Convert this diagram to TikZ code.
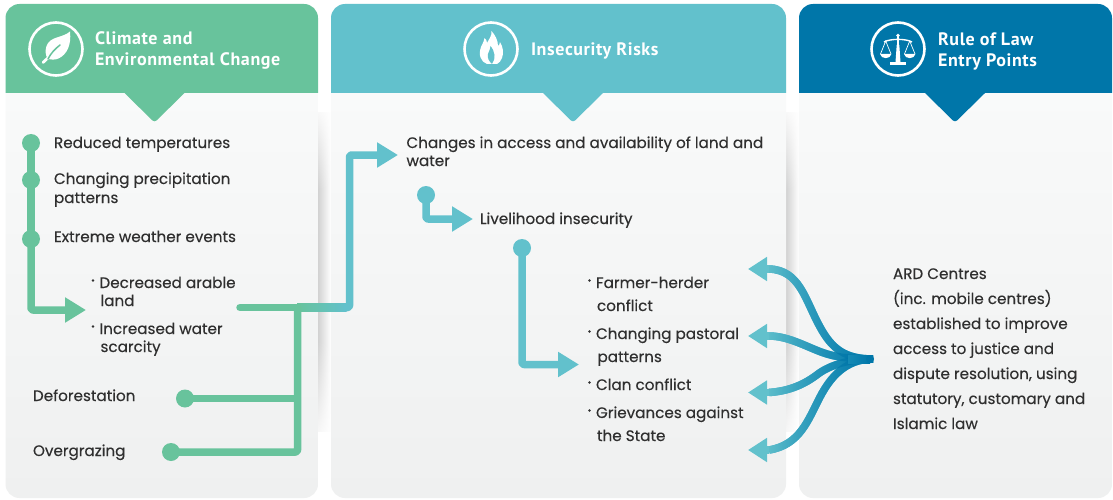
\documentclass[tikz,border=0pt]{standalone}
\usepackage{fontspec}
\setmainfont[FakeBold=0.25]{Poppins}
\newfontfamily\hdfont[LetterSpace=3.4]{PT Sans}
\usetikzlibrary{arrows.meta,fadings,calc}
\definecolor{cgreen}{HTML}{68C39C}
\definecolor{cteal}{HTML}{62C1CC}
\definecolor{cblue}{HTML}{0076A9}
\definecolor{cmid}{HTML}{2BA0C3}
\definecolor{ctext}{HTML}{2F2F2F}
\definecolor{pnltop}{HTML}{FAFBFB}
\definecolor{pnlbot}{HTML}{EFF0F0}
\definecolor{shd}{HTML}{D2D2D2}
\tikzfading[name=fanleft,left color=transparent!0,middle color=transparent!100,right color=transparent!100]
\tikzfading[name=fanright,left color=transparent!100,middle color=transparent!100,right color=transparent!0]
\tikzset{
  txt/.style={anchor=base west,inner sep=0pt,outer sep=0pt,text=ctext,font=\fontsize{15.2}{18}\selectfont},
  hd/.style={anchor=base west,inner sep=0pt,outer sep=0pt,text=white,font=\hdfont\bfseries\fontsize{18}{20}\selectfont},
  dotnode/.style={circle,inner sep=0pt,minimum size=18pt,fill=#1},
  conn/.style={line width=7.5pt,draw=#1,line join=round,rounded corners=2pt},
  headarrow/.style={-{Triangle[length=21pt,width=24pt]}},
  fan/.style={line width=7.5pt,line cap=butt},
  bullet/.style={circle,fill=ctext,inner sep=0pt,minimum size=2.6pt},
  ring/.style={circle,draw=white,line width=2.6pt,minimum size=53pt,inner sep=0pt}
}
\begin{document}
\begin{tikzpicture}[x=1pt,y=-1pt]
\useasboundingbox (0,0) rectangle (1113,500);
\fill[white] (0,0) rectangle (1113,500);
% shadows
\foreach \sx in {318,786}{
  \shade[left color=shd,right color=white] (\sx,96) rectangle (\sx+13,470);
  \fill[white,path fading=south] (\sx,100) rectangle (\sx+13,190);
  \fill[white] (\sx,90) rectangle (\sx+13,112);
  \fill[white,path fading=north] (\sx,340) rectangle (\sx+13,450);
  \fill[white] (\sx,432) rectangle (\sx+13,498);
}
% panels
\foreach \xa/\xb/\xc/\col in {5.5/318/154.5/cgreen,331/786/573/cteal,799/1112/955/cblue}{
  \shade[top color=pnltop,bottom color=pnlbot,rounded corners=14pt] (\xa,50) rectangle (\xb,498);
  \fill[\col] (\xa,93) [rounded corners=14pt] -- (\xa,4) -- (\xb,4) [sharp corners] -- (\xb,93) -- cycle;
  \fill[\col] (\xc-30,93) [rounded corners=3pt] -- (\xc,122.5) [sharp corners] -- (\xc+30,93) -- cycle;
}
% icon rings
\node[ring] (ringA) at (56,49) {};
\node[ring] (ringB) at (491,49) {};
\node[ring] (ringC) at (898,49) {};
% leaf
\fill[white] (70,31.5) .. controls (63,38) and (50,36) .. (46.5,46) .. controls (45,51) and (45.5,55) .. (47.5,58.5)
  .. controls (51,60) and (55,60) .. (58.5,58.5) .. controls (67,54.5) and (71.5,45) .. (70,31.5) -- cycle;
\draw[white,line width=2.8pt,line cap=round] (50,56) -- (43,62.5);
\draw[cgreen,line width=1.5pt,line cap=round] (48,59) .. controls (51,53) and (55,49) .. (60,45);
% flame
\fill[white] (487,64) .. controls (481,62) and (478,55) .. (481,47) .. controls (482,44) and (484,42) .. (484.5,38)
  .. controls (486,39) and (487,41) .. (487,43) .. controls (489,39) and (492,36) .. (491.5,31)
  .. controls (495,35) and (498,40) .. (498,46) .. controls (499,45) and (500,44) .. (500,42)
  .. controls (503,47) and (504,53) .. (502,58) .. controls (501,61) and (499,63) .. (497,64) -- cycle;
\fill[cteal] (492,64) .. controls (489,61) and (487,58) .. (488,54) .. controls (488.5,52) and (490,50) .. (490.5,46)
  .. controls (493,49) and (494,52) .. (494.5,55) .. controls (495,58) and (494,61) .. (492,64) -- cycle;
% scales
\fill[white] (896.7,45) -- (899.3,45) -- (900.5,62) -- (895.5,62) -- cycle;
\draw[white,line width=1.6pt] (898,36) -- (898,62);
\fill[white] (890,62) rectangle (906,65);
\fill[white] (898,35.5) circle (1.8);
\draw[white,line width=1.4pt] (884,42) .. controls (890,38.5) and (906,38.5) .. (912,42);
\draw[white,line width=.7pt] (880.5,54) -- (885.7,41) -- (891,54);
\draw[white,line width=.7pt] (904.5,54) -- (909.7,41) -- (915,54);
\fill[white] (880,54) .. controls (881,59.5) and (890.5,59.5) .. (891.4,54) -- cycle;
\fill[white] (904,54) .. controls (905,59.5) and (914.5,59.5) .. (915.4,54) -- cycle;
% headers
\node[hd] (hA1) at (95,45) {Climate and};
\node[hd] (hA2) at (95,66) {Environmental Change};
\node[hd] (hB1) at (531,56) {Insecurity Risks};
\node[hd] (hC1) at (938,46) {Rule of Law};
\node[hd] (hC2) at (938,67) {Entry Points};
% left green chain
\node[dotnode=cgreen] (g1) at (31,143) {};
\node[dotnode=cgreen] (g2) at (31,180) {};
\node[dotnode=cgreen] (g3) at (31,239) {};
\coordinate (gtip) at (86,310);
\draw[conn=cgreen] (g1.center) -- (g2.center);
\draw[conn=cgreen] (g2.center) -- (g3.center);
\draw[conn=cgreen,headarrow,color=cgreen] (g3.center) |- (gtip);
% merge connector
\node[dotnode=cgreen] (g4) at (185,398.5) {};
\node[dotnode=cgreen] (g5) at (171,452) {};
\coordinate (gs) at (240,307.5);
\coordinate (jn) at (297.5,307.5);
\coordinate (jd) at (297.5,398.5);
\coordinate (bc) at (349.5,307.5);
\coordinate (bt) at (349.5,155);
\coordinate (btip) at (398,155);
\shade[left color=cgreen,right color=cteal] ($(jn)+(-.5,-3.75)$) rectangle ($(bc)+(-3,3.75)$);
\draw[conn=cteal,headarrow,color=cteal] ($(bc)+(-6,0)$) -- (bc) -- (bt) -- (btip);
\draw[conn=cgreen,line cap=round] (gs) -- (jn);
\draw[conn=cgreen] (g4.center) -- (jd);
\draw[conn=cgreen] (g5.center) -| (jn);
% teal chains
\node[dotnode=cteal] (b1) at (426,195) {};
\coordinate (b1tip) at (473,219);
\draw[conn=cteal,headarrow,color=cteal] (b1.center) |- (b1tip);
\node[dotnode=cteal] (b2) at (522,248) {};
\coordinate (b2tip) at (579,364.5);
\draw[conn=cteal,headarrow,color=cteal] (b2.center) |- (b2tip);
% fan
\coordinate (hub) at (873,359);
\foreach \nm/\yt in {f1/269,f2/336,f3/392.5,f4/450}{
  \coordinate (\nm) at (769,\yt);
  \coordinate (\nm t) at (748,\yt);
}
\def\fone{(hub) .. controls (845,359) and (832,349) .. (820,327) .. controls (805,300) and (800,270) .. (f1)}
\def\ftwo{(hub) .. controls (855,359) and (840,358) .. (827,354) .. controls (810,349) and (790,336) .. (f2)}
\def\fthr{(hub) .. controls (850,359) and (830,365) .. (818,374) .. controls (805,384) and (790,391) .. (f3)}
\def\ffou{(hub) .. controls (845,359) and (830,378) .. (820,397) .. controls (808,420) and (800,445) .. (f4)}
\draw[fan,cmid] \fone;
\draw[fan,cmid] \ftwo;
\draw[fan,cmid] \fthr;
\draw[fan,cmid] \ffou;
\draw[fan,cteal,path fading=fanleft] \fone;
\draw[fan,cteal,path fading=fanleft] \ftwo;
\draw[fan,cteal,path fading=fanleft] \fthr;
\draw[fan,cteal,path fading=fanleft] \ffou;
\draw[fan,cblue,path fading=fanright] \fone;
\draw[fan,cblue,path fading=fanright] \ftwo;
\draw[fan,cblue,path fading=fanright] \fthr;
\draw[fan,cblue,path fading=fanright] \ffou;
\shade[left color=cblue!52!cmid,right color=cblue] (848,355) rectangle (870,363);
\fill[cblue] (870,359) circle (4);
\draw[line width=7.5pt,cteal,-{Triangle[length=19pt,width=23pt]}] (f1) -- (f1t);
\draw[line width=7.5pt,cteal,-{Triangle[length=19pt,width=23pt]}] (f2) -- (f2t);
\draw[line width=7.5pt,cteal,-{Triangle[length=19pt,width=23pt]}] (f3) -- (f3t);
\draw[line width=7.5pt,cteal,-{Triangle[length=19pt,width=23pt]}] (f4) -- (f4t);
% texts panel A
\node[txt] (ta1) at (54,148) {Reduced temperatures};
\node[txt] (ta2) at (54,184) {Changing precipitation};
\node[txt] (ta3) at (54,203) {patterns};
\node[txt] (ta4) at (54,242) {Extreme weather events};
\node[txt] (ta5) at (99.5,288) {Decreased arable};
\node[txt] (ta6) at (100.5,306) {land};
\node[txt] (ta7) at (99.5,334) {Increased water};
\node[txt] (ta8) at (100.5,352) {scarcity};
\node[txt] (ta9) at (33,401) {Deforestation};
\node[txt] (ta10) at (33,456) {Overgrazing};
\node[bullet] (ba1) at (93,280.5) {};
\node[bullet] (ba2) at (93,326.5) {};
% texts panel B
\node[txt] (tb1) at (406.5,148) {Changes in access and availability of land and};
\node[txt] (tb2) at (406.5,166) {water};
\node[txt] (tb3) at (480,224) {Livelihood insecurity};
\node[txt] (tb4) at (596,288) {Farmer-herder};
\node[txt] (tb5) at (597,311) {conflict};
\node[txt] (tb6) at (596,339) {Changing pastoral};
\node[txt] (tb7) at (597.5,362) {patterns};
\node[txt] (tb8) at (596,390) {Clan conflict};
\node[txt] (tb9) at (596,418) {Grievances against};
\node[txt] (tb10) at (597,441) {the State};
\node[bullet] (bb1) at (589.5,280.5) {};
\node[bullet] (bb2) at (589.5,331.5) {};
\node[bullet] (bb3) at (589.5,382.5) {};
\node[bullet] (bb4) at (589.5,410.5) {};
% texts panel C
\node[txt] (tc1) at (893,279) {ARD Centres};
\node[txt] (tc2) at (893,304) {(inc. mobile centres)};
\node[txt] (tc3) at (893,329) {established to improve};
\node[txt] (tc4) at (893,354) {access to justice and};
\node[txt] (tc5) at (893,379) {dispute resolution, using};
\node[txt] (tc6) at (893,404) {statutory, customary and};
\node[txt] (tc7) at (893,429) {Islamic law};
\end{tikzpicture}
\end{document}
